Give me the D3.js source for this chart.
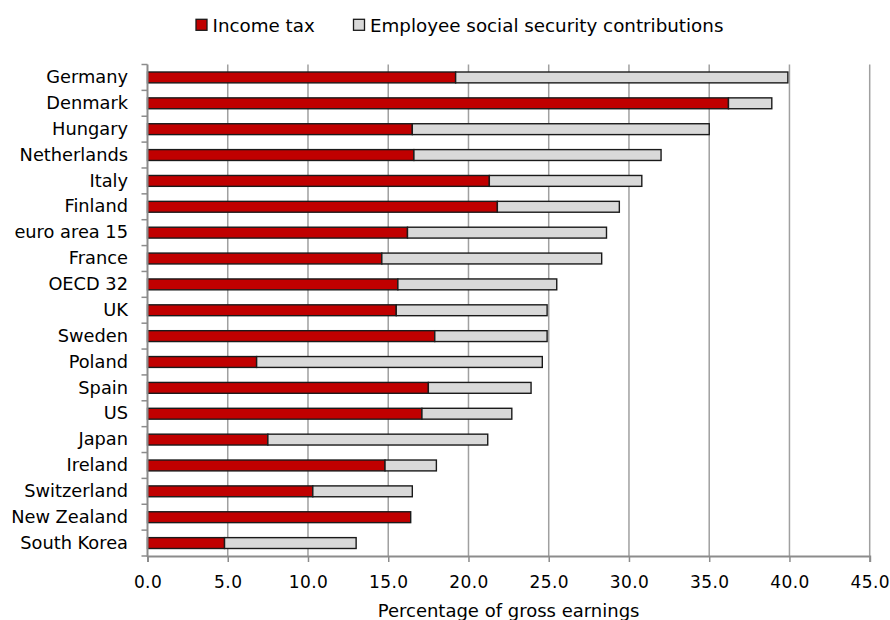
<!DOCTYPE html>
<html><head><meta charset="utf-8">
<script src="https://cdn.jsdelivr.net/npm/d3@7"></script>
<style>body{margin:0;background:#fff}svg{display:block}text{font-family:"DejaVu Sans",sans-serif;fill:#000}</style>
</head><body><svg id="c" width="890" height="620"></svg>
<script>
const countries = ["Germany","Denmark","Hungary","Netherlands","Italy","Finland","euro area 15","France","OECD 32","UK","Sweden","Poland","Spain","US","Japan","Ireland","Switzerland","New Zealand","South Korea"];
const incomeTax = [19.2,36.2,16.5,16.6,21.3,21.8,16.2,14.6,15.6,15.5,17.9,6.8,17.5,17.1,7.5,14.8,10.3,16.4,4.8];
const socialSecurity = [20.7,2.7,18.5,15.4,9.5,7.6,12.4,13.7,9.9,9.4,7.0,17.8,6.4,5.6,13.7,3.2,6.2,0,8.2];
const seriesNames = ["Income tax","Employee social security contributions"];
const xTicks = [0,5,10,15,20,25,30,35,40,45];
const xTitle = "Percentage of gross earnings";

(function(){
const svg = d3.select("#c");
const pl = 147.5, pr = 869.7, pt = 64.5, pb = 556;
const x = d3.scaleLinear().domain([0,45]).range([pl,pr]);
const y = d3.scaleBand().domain(countries).range([pt,pb]).paddingInner(0.58).paddingOuter(0.29);
const colors = ["#C00000","#D9D9D9"];

svg.append("g").selectAll("line").data(xTicks.filter(d=>d>0)).join("line")
  .attr("x1",d=>x(d)).attr("x2",d=>x(d)).attr("y1",pt).attr("y2",pb)
  .attr("stroke","#a0a0a0").attr("stroke-width",1.5);

const rows = countries.map((c,i)=>({c, it:incomeTax[i], ss:socialSecurity[i]}));
const stack = d3.stack().keys(["it","ss"])(rows);
stack.forEach((layer,k)=>{
  svg.append("g").selectAll("rect").data(layer.filter(d=>d[1]-d[0]>0)).join("rect")
    .attr("x",d=>x(d[0])).attr("width",d=>x(d[1])-x(d[0]))
    .attr("y",d=>y(d.data.c)).attr("height",y.bandwidth())
    .attr("fill",colors[k]).attr("stroke","#1a1a1a").attr("stroke-width",1.4);
});

const xa = svg.append("g").attr("transform",`translate(0,${pb})`)
  .call(d3.axisBottom(x).tickValues(xTicks).tickFormat(d3.format(".1f")).tickSize(6));
xa.select(".domain").attr("stroke","#8c8c8c").attr("stroke-width",2);
xa.selectAll(".tick line").attr("stroke","#8c8c8c").attr("stroke-width",1.5);
xa.selectAll("text").attr("y",20).attr("font-size",17).attr("font-family","DejaVu Sans").attr("letter-spacing",0.4).attr("fill","#000");

const ya = svg.append("g").attr("transform",`translate(${pl},0)`)
  .call(d3.axisLeft(y).tickSize(0).tickPadding(19.5));
ya.select(".domain").remove();
ya.selectAll("text").attr("font-size",17.8).attr("font-family","DejaVu Sans").attr("fill","#000");
ya.append("line").attr("x1",0).attr("x2",0).attr("y1",pt).attr("y2",pb+1)
  .attr("stroke","#8c8c8c").attr("stroke-width",2);
const bounds = d3.range(countries.length+1).map(i=>pt + i*y.step());
ya.selectAll(".bt").data(bounds).join("line").attr("class","bt")
  .attr("x1",-6).attr("x2",0).attr("y1",d=>d).attr("y2",d=>d)
  .attr("stroke","#8c8c8c").attr("stroke-width",1.5);

svg.append("text").attr("x",(pl+pr)/2).attr("y",616.5).attr("text-anchor","middle")
  .attr("font-size",18).text(xTitle);

const lg = svg.append("g");
const legendItems = [{x:196,name:seriesNames[0],c:colors[0]},{x:353.5,name:seriesNames[1],c:colors[1]}];
legendItems.forEach(d=>{
  lg.append("rect").attr("x",d.x).attr("y",19.3).attr("width",11).attr("height",11)
    .attr("fill",d.c).attr("stroke","#1a1a1a").attr("stroke-width",1.3);
  lg.append("text").attr("x",d.x+16.5).attr("y",31.5).attr("font-size",18.3).text(d.name);
});
})();
</script></body></html>
